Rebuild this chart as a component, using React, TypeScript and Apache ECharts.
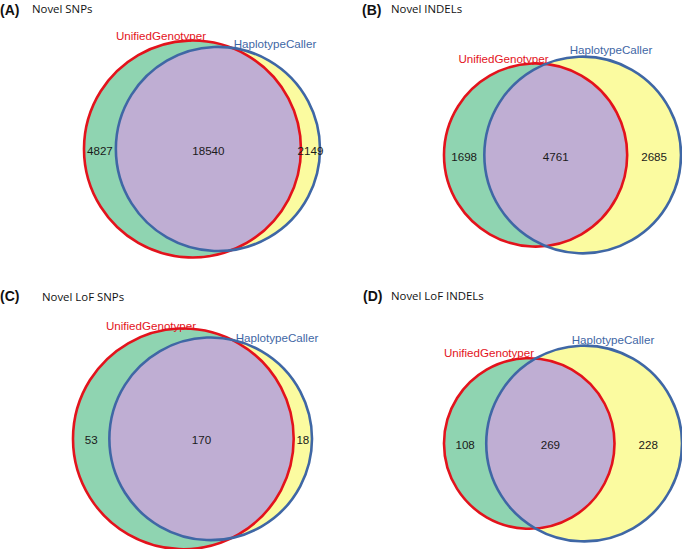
import React, { useEffect, useRef } from "react";
import * as echarts from "echarts";

// ---------------- data ----------------
const panelLetters = ["(A)", "(B)", "(C)", "(D)"];
const panelTitles = ["Novel SNPs", "Novel INDELs", "Novel LoF SNPs", "Novel LoF INDELs"];
const setNames = ["UnifiedGenotyper", "HaplotypeCaller"];
const onlyUG = [4827, 1698, 53, 108];
const shared = [18540, 4761, 170, 269];
const onlyHC = [2149, 2685, 18, 228];

// ---------------- layout (pixels) ----------------
const panelLeft = [84, 444, 73, 444];
const panelWidth = [236, 237, 239, 238];
const panelCy = [149, 155, 439, 443.5];
const ugLabelPos = [[161, 35], [503.5, 58], [151, 325], [489, 352]];
const hcLabelPos = [[275, 43], [611, 49], [277, 337], [613, 339]];
const letterPos = [[0, 10], [362, 9.5], [0, 296], [363, 295.5]];
const titlePos = [[32, 8.5], [391, 8], [42, 296], [391, 295.5]];

const GREEN = "#8fd4b1";
const YELLOW = "#fbfba0";
const PURPLE = "#bfaed3";
const RED = "#e3131c";
const BLUE = "#3f67a5";
const NUM_FONT = "'Liberation Sans', Arial, Helvetica, sans-serif";
const TITLE_FONT = "'Open Sans', 'Noto Sans', sans-serif";

function lensArea(r1: number, r2: number, d: number) {
  if (d >= r1 + r2) return 0;
  if (d <= Math.abs(r1 - r2)) return Math.PI * Math.min(r1, r2) ** 2;
  const a1 = Math.acos((d * d + r1 * r1 - r2 * r2) / (2 * d * r1));
  const a2 = Math.acos((d * d + r2 * r2 - r1 * r1) / (2 * d * r2));
  const k = Math.sqrt((-d + r1 + r2) * (d + r1 - r2) * (d - r1 + r2) * (d + r1 + r2));
  return r1 * r1 * a1 + r2 * r2 * a2 - 0.5 * k;
}

function solveDistance(r1: number, r2: number, target: number) {
  let lo = Math.abs(r1 - r2);
  let hi = r1 + r2;
  for (let i = 0; i < 100; i++) {
    const mid = (lo + hi) / 2;
    if (lensArea(r1, r2, mid) > target) lo = mid;
    else hi = mid;
  }
  return (lo + hi) / 2;
}

function centeredText(text: string, x: number, y: number, fontSize: number, fontFamily: string, fill: string, fontWeight = "normal", align = "center") {
  return {
    type: "text",
    z: 100,
    x,
    y,
    style: {
      text,
      align,
      verticalAlign: "middle",
      textAlign: align,
      textVerticalAlign: "middle",
      fontSize,
      fontWeight,
      fontFamily,
      fill,
    },
  };
}

function buildOption() {
  const grid: any[] = [];
  const xAxis: any[] = [];
  const yAxis: any[] = [];
  const series: any[] = [];
  const graphic: any[] = [];

  for (let i = 0; i < 4; i++) {
    const r1 = Math.sqrt((onlyUG[i] + shared[i]) / Math.PI);
    const r2 = Math.sqrt((onlyHC[i] + shared[i]) / Math.PI);
    const d = solveDistance(r1, r2, shared[i]);
    const span = r1 + d + r2;
    const scale = panelWidth[i] / span;
    const R = Math.max(r1, r2);
    const h = 2 * R * scale;
    grid.push({
      left: panelLeft[i],
      width: panelWidth[i],
      top: panelCy[i] - h / 2,
      height: h,
      containLabel: false,
    });
    xAxis.push({ type: "value", gridIndex: i, min: -r1, max: d + r2, show: false, splitLine: { show: false } });
    yAxis.push({ type: "value", gridIndex: i, min: -R, max: R, show: false, splitLine: { show: false } });
    series.push({
      type: "custom",
      xAxisIndex: i,
      yAxisIndex: i,
      clip: false,
      data: [[d, r1, r2, onlyUG[i], shared[i], onlyHC[i]]],
      renderItem: (params: any, api: any) => {
        const dd = api.value(0);
        const rr1 = api.value(1);
        const rr2 = api.value(2);
        const c1 = api.coord([0, 0]);
        const c2 = api.coord([dd, 0]);
        const R1 = api.size([rr1, 0])[0];
        const R2 = api.size([rr2, 0])[0];
        const D = c2[0] - c1[0];
        const a = (D * D + R1 * R1 - R2 * R2) / (2 * D);
        const hh = Math.sqrt(Math.max(R1 * R1 - a * a, 0));
        const px = c1[0] + a;
        const cy = c1[1];
        const top = cy - hh;
        const bot = cy + hh;
        const large2 = px > c2[0] ? 1 : 0;
        const large1 = px < c1[0] ? 1 : 0;
        const lens = `M ${px} ${top} A ${R2} ${R2} 0 ${large2} 0 ${px} ${bot} A ${R1} ${R1} 0 ${large1} 0 ${px} ${top} Z`;
        const ugLeft = c1[0] - R1;
        const ugRight = c1[0] + R1;
        const hcLeft = c2[0] - R2;
        const hcRight = c2[0] + R2;
        const numStyle = (text: string, x: number) => ({
          type: "text",
          z2: 10,
          style: {
            text,
            x,
            y: cy + 1,
            align: "center",
            verticalAlign: "middle",
            textAlign: "center",
            textVerticalAlign: "middle",
            fontSize: 11.6,
            fontFamily: NUM_FONT,
            fill: "#1a1a1a",
          },
        });
        return {
          type: "group",
          children: [
            { type: "circle", shape: { cx: c1[0], cy, r: R1 }, style: { fill: GREEN, stroke: null } },
            { type: "circle", shape: { cx: c2[0], cy, r: R2 }, style: { fill: YELLOW, stroke: null } },
            { type: "path", shape: { pathData: lens }, style: { fill: PURPLE, stroke: null } },
            { type: "circle", shape: { cx: c1[0], cy, r: R1 }, style: { fill: "none", stroke: RED, lineWidth: 2.6 } },
            { type: "circle", shape: { cx: c2[0], cy, r: R2 }, style: { fill: "none", stroke: BLUE, lineWidth: 2.6 } },
            numStyle(String(api.value(3)), (ugLeft + hcLeft) / 2),
            numStyle(String(api.value(4)), (hcLeft + ugRight) / 2),
            numStyle(String(api.value(5)), (ugRight + hcRight) / 2),
          ],
        };
      },
    });

    graphic.push(centeredText(panelLetters[i], letterPos[i][0], letterPos[i][1], 14, "'Liberation Sans', Arial, sans-serif", "#111", "bold", "left"));
    graphic.push(centeredText(panelTitles[i], titlePos[i][0], titlePos[i][1], 11.4, TITLE_FONT, "#111", "normal", "left"));
    graphic.push(centeredText(setNames[0], ugLabelPos[i][0], ugLabelPos[i][1], 11.6, NUM_FONT, RED));
    graphic.push(centeredText(setNames[1], hcLabelPos[i][0], hcLabelPos[i][1], 11.6, NUM_FONT, BLUE));
  }

  return {
    animation: false,
    backgroundColor: "#ffffff",
    grid,
    xAxis,
    yAxis,
    series,
    graphic,
  };
}

export default function App() {
  const ref = useRef<HTMLDivElement>(null);
  useEffect(() => {
    if (!ref.current) return;
    const chart = echarts.init(ref.current, null, { renderer: "svg" });
    chart.setOption(buildOption() as any);
    return () => chart.dispose();
  }, []);
  return (
    <div
      ref={ref}
      style={{ position: "absolute", left: 0, top: 0, width: 682, height: 549, background: "#fff" }}
    />
  );
}
